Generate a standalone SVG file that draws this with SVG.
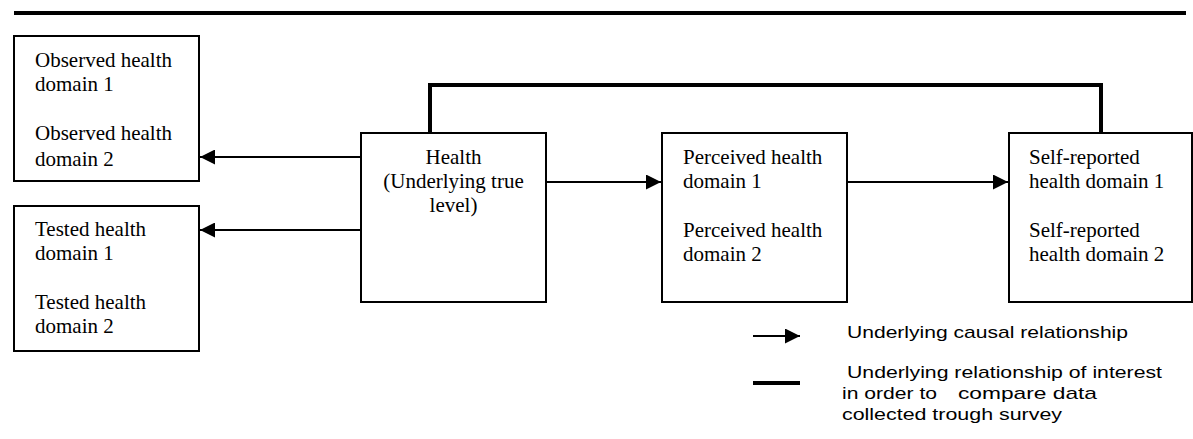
<svg xmlns="http://www.w3.org/2000/svg" width="1193" height="439" viewBox="0 0 1193 439">
<style>
.box{fill:#fff;stroke:#000;stroke-width:2}
.t{font-family:"Liberation Serif","Times New Roman",serif;font-size:21px;fill:#000}
.c{text-anchor:middle}
.lg{font-family:"Liberation Sans",Arial,sans-serif;font-size:17px;fill:#000}
.arr{fill:none;stroke:#000;stroke-width:1.8}
.thick{fill:none;stroke:#000;stroke-width:4}
</style>
<defs>
<marker id="ah" markerUnits="userSpaceOnUse" markerWidth="15" markerHeight="15" refX="15" refY="7.5" orient="auto">
<path d="M0,0 L15,7.5 L0,15 z" fill="#000"/>
</marker>
</defs>
<rect width="1193" height="439" fill="#fff"/>
<line x1="14" y1="13" x2="1186" y2="13" stroke="#000" stroke-width="4"/>

<g id="connectors">
<path class="thick" d="M430,133 V85 H1101 V133"/>
<line class="arr" x1="361" y1="157" x2="200" y2="157" marker-end="url(#ah)"/>
<line class="arr" x1="361" y1="230" x2="200" y2="230" marker-end="url(#ah)"/>
<line class="arr" x1="546" y1="182" x2="661" y2="182" marker-end="url(#ah)"/>
<line class="arr" x1="847" y1="182" x2="1008" y2="182" marker-end="url(#ah)"/>
</g>

<g id="observed">
<rect class="box" x="14" y="36" width="185" height="145"/>
<text class="t" x="35" y="67">Observed health</text>
<text class="t" x="35" y="91">domain 1</text>
<text class="t" x="35" y="140">Observed health</text>
<text class="t" x="35" y="166">domain 2</text>
</g>

<g id="tested">
<rect class="box" x="14" y="206" width="185" height="145"/>
<text class="t" x="35" y="236">Tested health</text>
<text class="t" x="35" y="260">domain 1</text>
<text class="t" x="35" y="309">Tested health</text>
<text class="t" x="35" y="333">domain 2</text>
</g>

<g id="health">
<rect class="box" x="361" y="133" width="185" height="169"/>
<text class="t c" x="453.5" y="164">Health</text>
<text class="t c" x="453.5" y="188">(Underlying true</text>
<text class="t c" x="453.5" y="212">level)</text>
</g>

<g id="perceived">
<rect class="box" x="662" y="133" width="185" height="169"/>
<text class="t" x="683" y="164">Perceived health</text>
<text class="t" x="683" y="188">domain 1</text>
<text class="t" x="683" y="237">Perceived health</text>
<text class="t" x="683" y="261">domain 2</text>
</g>

<g id="selfreported">
<rect class="box" x="1009" y="133" width="183" height="169"/>
<text class="t" x="1029" y="164">Self-reported</text>
<text class="t" x="1029" y="188">health domain 1</text>
<text class="t" x="1029" y="237">Self-reported</text>
<text class="t" x="1029" y="261">health domain 2</text>
</g>

<g id="legend">
<line class="arr" x1="753" y1="336" x2="800" y2="336" marker-end="url(#ah)"/>
<line x1="753" y1="383" x2="800" y2="383" stroke="#000" stroke-width="4"/>
<text class="lg" x="847" y="338" textLength="281" lengthAdjust="spacingAndGlyphs">Underlying causal relationship</text>
<text class="lg" x="847" y="378" textLength="315" lengthAdjust="spacingAndGlyphs">Underlying relationship of interest</text>
<text class="lg" y="399"><tspan x="842" textLength="95" lengthAdjust="spacingAndGlyphs">in order to</tspan><tspan x="958" textLength="139" lengthAdjust="spacingAndGlyphs">compare data</tspan></text>
<text class="lg" x="842" y="420" textLength="220" lengthAdjust="spacingAndGlyphs">collected trough survey</text>
</g>
</svg>
